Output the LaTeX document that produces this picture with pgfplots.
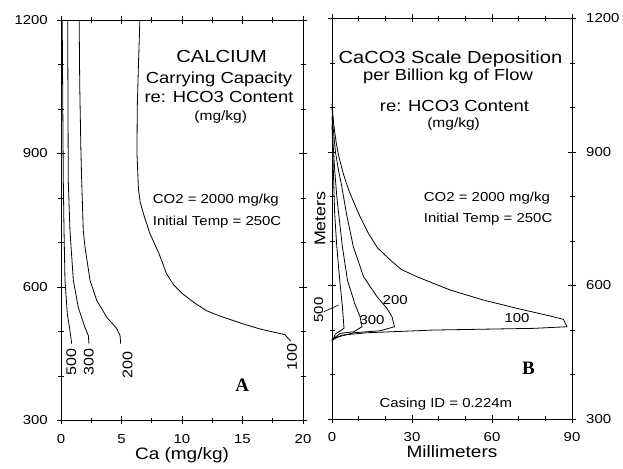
\documentclass[border=0pt]{standalone}
\usepackage{fontspec}
\setmainfont[FakeStretch=1.15]{Liberation Sans}
\newfontfamily\serifbold{Liberation Serif}
\usepackage{pgfplots}
\pgfplotsset{compat=1.18}
\newcommand{\fs}[1]{\fontsize{#1}{#1}\selectfont}
\pgfplotsset{
  crv/.style={black, line width=0.8pt, mark=none},
  panel/.style={
    scale only axis,
    ymin=300, ymax=1200,
    ytick={300,600,900,1200},
    minor y tick num=2,
    tick align=center,
    major tick length=8pt,
    minor tick length=5pt,
    axis line style={line width=0.8pt},
    tick style={line width=0.6pt, black},
    xtick pos=both, ytick pos=both,
    xticklabel pos=lower,
    /pgf/number format/assume math mode=true,
    /pgf/number format/set thousands separator={},
    ticklabel style={font=\fs{13}, inner sep=0pt},
    xticklabel style={anchor=base, yshift=-19pt},
    xlabel style={at={(axis description cs:0.5,0)}, anchor=base, yshift=-39pt, font=\fs{16.5}},
  }
}
\begin{document}
\begin{tikzpicture}[x=1pt,y=1pt]
\useasboundingbox (0,0) rectangle (623,468);
% ---------------- Panel A ----------------
\begin{axis}[panel,
  at={(61pt,47.5pt)}, anchor=south west,
  width=242pt, height=400.5pt,
  xmin=0, xmax=20,
  xtick={0,5,10,15,20},
  minor x tick num=1,
  yticklabel pos=left,
  yticklabel style={anchor=east, xshift=-9pt},
  xlabel={Ca (mg/kg)},
]
% HCO3 = 100
\addplot[crv] coordinates {(6.52,1200) (6.4,1100) (6.3,1000) (6.28,900) (6.4,820) (6.55,790) (6.9,757) (7.35,720) (8.1,675) (8.72,630) (9.3,605) (10.04,585) (11.0,565) (12.0,547) (13.1,535) (14.2,525) (15.3,515) (16.4,506) (17.5,499) (18.5,493) (19.0,478)};
% HCO3 = 200
\addplot[crv] coordinates {(1.5,1200) (1.55,1050) (1.65,900) (1.71,840) (1.84,727) (1.98,690) (2.4,615) (2.95,570) (3.78,532) (4.6,507) (4.88,491) (4.93,473)};
% HCO3 = 300
\addplot[crv] coordinates {(0.55,1200) (0.58,1000) (0.6,840) (0.74,727) (1.02,615) (1.43,554) (1.98,509) (2.26,491) (2.31,473)};
% HCO3 = 500
\addplot[crv] coordinates {(0.1,1200) (0.15,1000) (0.19,840) (0.25,727) (0.33,615) (0.52,540) (0.74,502) (0.88,473)};
\node[rotate=90, font=\fs{14}] at (axis cs:0.85,431) {500};
\node[rotate=90, font=\fs{14}] at (axis cs:2.29,431) {300};
\node[rotate=90, font=\fs{14}] at (axis cs:5.5,425) {200};
\node[rotate=90, font=\fs{14}] at (axis cs:19.1,442) {100};
\node[anchor=base, font=\fs{17.5}] at (axis cs:13.28,1104) {CALCIUM};
\node[anchor=base, font=\fs{16}] at (axis cs:13.06,1057.7) {Carrying Capacity};
\node[anchor=base, font=\fs{16}] at (axis cs:13.06,1014) {re: HCO3 Content};
\node[anchor=base, font=\fs{13.5}] at (axis cs:13.2,974) {(mg/kg)};
\node[anchor=base west, inner sep=0pt, font=\fs{13}] at (axis cs:7.58,788) {CO2 = 2000 mg/kg};
\node[anchor=base west, inner sep=0pt, font=\fs{13}] at (axis cs:7.58,739) {Initial Temp = 250C};
\node[anchor=base, font=\serifbold\bfseries\fs{19}] at (axis cs:14.98,365) {A};
\end{axis}
% ---------------- Panel B ----------------
\begin{axis}[panel,
  at={(332pt,49pt)}, anchor=south west,
  width=240pt, height=400.5pt,
  xmin=0, xmax=90,
  xtick={0,30,60,90},
  minor x tick num=2,
  yticklabel pos=right,
  yticklabel style={anchor=west, xshift=10pt},
  xlabel={Millimeters},
  ylabel={Meters},
  ylabel style={at={(axis description cs:-0.028,0.5)}, anchor=base, font=\fs{15.5}},
  clip=false,
]
% HCO3 = 100
\addplot[crv] coordinates {(0,1009) (0.6,964) (1.6,920) (2.6,889) (4.3,850) (6.3,814) (8.3,785) (10.5,755) (13.4,720) (17,685) (21.9,657) (26,636) (31.9,619.6) (44.4,589.7) (56.8,567.3) (69.4,548.6) (81.9,531.3) (86.8,523.9) (88.1,507.3) (75.6,503.7) (38.1,499.9) (13.1,493.8) (3.75,488.6) (0,477.4)};
% HCO3 = 200
\addplot[crv] coordinates {(0,1000) (0.5,950) (1.3,900) (2.4,860) (3.6,825) (5.4,762) (8.0,687) (11.85,619.6) (16.9,574.7) (20.6,548.6) (22.5,529.8) (23.4,507.3) (18.1,498.3) (8.1,493.8) (0.4,481.3) (0,477.4)};
% HCO3 = 300
\addplot[crv] coordinates {(0,980) (0.4,920) (1.0,860) (1.8,800) (2.7,750) (3.9,687) (5.8,612) (8.5,560) (10.5,530) (11.25,507.3) (8.1,496) (3.1,492.5) (0.2,479) (0,476)};
% HCO3 = 500
\addplot[crv] coordinates {(0,960) (0.3,900) (0.6,840) (1.0,762) (1.8,687) (2.9,612) (3.9,552) (4.5,504) (3.1,498) (1.24,490.9) (0.37,477.4) (0,475)};
\draw[line width=0.6pt] (axis cs:-3.1,541) -- (axis cs:2.5,556);
\node[rotate=90, font=\fs{13}] at (axis cs:-5.0,545) {500};
\node[font=\fs{13}] at (axis cs:23.7,567.3) {200};
\node[font=\fs{13}] at (axis cs:15.0,522) {300};
\node[font=\fs{13}] at (axis cs:69.4,526) {100};
\node[anchor=base, font=\fs{17.5}] at (axis cs:44.4,1099) {CaCO3 Scale Deposition};
\node[anchor=base, font=\fs{16}] at (axis cs:43.5,1061) {per Billion kg of Flow};
\node[anchor=base, font=\fs{16}] at (axis cs:45.9,990) {re: HCO3 Content};
\node[anchor=base, font=\fs{13.5}] at (axis cs:45.6,955) {(mg/kg)};
\node[anchor=base west, inner sep=0pt, font=\fs{13}] at (axis cs:34.4,788) {CO2 = 2000 mg/kg};
\node[anchor=base west, inner sep=0pt, font=\fs{13}] at (axis cs:34.4,741) {Initial Temp = 250C};
\node[anchor=base, font=\fs{13}] at (axis cs:42.7,326) {Casing ID = 0.224m};
\node[anchor=base, font=\serifbold\bfseries\fs{19}] at (axis cs:73.7,399) {B};
\end{axis}
\end{tikzpicture}
\end{document}
